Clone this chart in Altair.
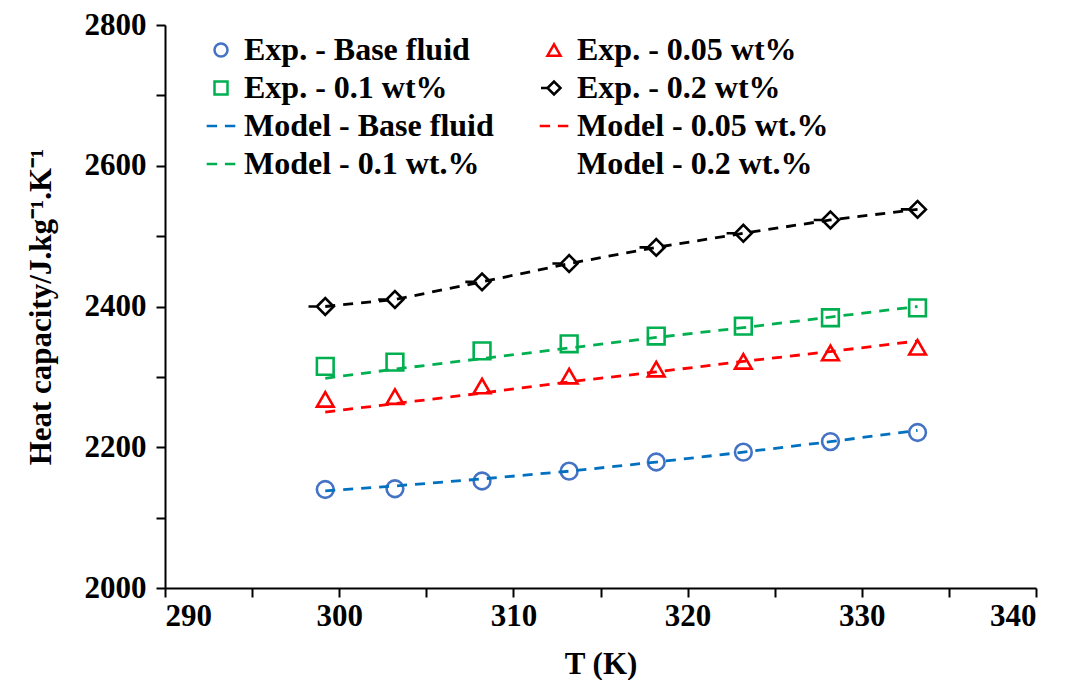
import altair as alt
import pandas as pd

# ---- data ----
T = [299.2, 303.2, 308.2, 313.2, 318.2, 323.2, 328.2, 333.2]
exp_base = [2140, 2141, 2152, 2166, 2179, 2193, 2208, 2221]
exp_005 = [2268, 2272, 2287, 2301, 2311, 2322, 2334, 2342]
exp_01 = [2315, 2321, 2337, 2347, 2358, 2372, 2384, 2398]
exp_02 = [2400, 2410, 2435, 2461, 2484, 2504, 2523, 2538]
model_base = [2138, 2145, 2155, 2166, 2179, 2193, 2208, 2224]
model_005 = [2250, 2262, 2277, 2293, 2307, 2322, 2336, 2351]
model_01 = [2298, 2311, 2326, 2341, 2356, 2370, 2385, 2400]
model_02 = [2400, 2410, 2435, 2461, 2484, 2504, 2523, 2538]

exp_names = ["Exp. - Base fluid", "Exp. - 0.05 wt%", "Exp. - 0.1 wt%", "Exp. - 0.2 wt%"]
model_names = ["Model - Base fluid", "Model - 0.05 wt.%", "Model - 0.1 wt.%", "Model - 0.2 wt.%"]

DASH = "M-2.2,0H-0.6M0.6,0H2.2"
DIAMOND_TAIL = "M-2.0,0H-1M-1,0L0,-1L1,0L0,1Z"
# legend fills column by column: left column first, then right column
legend_order = ["Exp. - Base fluid", "Exp. - 0.1 wt%", "Model - Base fluid", "Model - 0.1 wt.%",
                "Exp. - 0.05 wt%", "Exp. - 0.2 wt%", "Model - 0.05 wt.%", "Model - 0.2 wt.%"]
colors = ["#4472C4", "#00B050", "#0070C0", "#00B050",
          "#FF0000", "#000000", "#FF0000", "#000000"]
shapes = ["circle", "square", DASH, DASH,
          "triangle-up", DIAMOND_TAIL, DASH, "M0,0"]

exp_rows = []
for name, vals in zip(exp_names, [exp_base, exp_005, exp_01, exp_02]):
    for t, v in zip(T, vals):
        exp_rows.append({"T": t, "Cp": v, "series": name})
model_rows = []
for name, vals in zip(model_names, [model_base, model_005, model_01, model_02]):
    for t, v in zip(T, vals):
        model_rows.append({"T": t, "Cp": v, "series": name})
exp_df = pd.DataFrame(exp_rows)
model_df = pd.DataFrame(model_rows)

FONT = "Liberation Serif"

x_enc = alt.X("T:Q", title="T (K)",
              scale=alt.Scale(domain=[290, 340], nice=False, zero=False),
              axis=alt.Axis(values=list(range(290, 341, 5)), format="d",
                            labelExpr="datum.value % 10 == 0 ? datum.label : ''",
                            labelPadding=4, titlePadding=18))
y_enc = alt.Y("Cp:Q", title="Heat capacity/J.kg\u207b\u00b9.K\u207b\u00b9",
              scale=alt.Scale(domain=[2000, 2800], nice=False, zero=False),
              axis=alt.Axis(values=list(range(2000, 2801, 100)), format="d",
                            labelExpr="datum.value % 200 == 0 ? datum.label : ''",
                            labelPadding=10, titlePadding=27))

legend = alt.Legend(
    title=None, orient="none", legendX=40, legendY=9, columns=2,
    labelFont=FONT, labelFontSize=32, labelFontWeight="bold", labelColor="black",
    labelLimit=400, symbolSize=169, symbolStrokeWidth=2.5, labelOffset=7,
    rowPadding=6, columnPadding=40, padding=0,
)

color_enc = alt.Color("series:N", scale=alt.Scale(domain=legend_order, range=colors), legend=legend)
shape_enc = alt.Shape("series:N", scale=alt.Scale(domain=legend_order, range=shapes), legend=legend)

points = alt.Chart(exp_df).mark_point(filled=False, size=280, strokeWidth=2.6, opacity=1).encode(
    x=x_enc, y=y_enc, color=color_enc, shape=shape_enc)

lines = alt.Chart(model_df).mark_line(strokeWidth=2.8, strokeDash=[10, 8]).encode(
    x=x_enc, y=y_enc, color=color_enc, detail="series:N")

chart = alt.layer(points, lines).properties(
    width=871, height=563,
    autosize=alt.AutoSizeParams(type="none"),
    padding={"left": 157, "top": 17, "right": 25, "bottom": 92},
).configure(background="white").configure_view(stroke=None).configure_axis(
    domainColor="black", domainWidth=2, tickColor="black", tickWidth=2, tickSize=9,
    grid=False, labelFont=FONT, labelFontSize=31, labelFontWeight="bold", labelColor="black",
    titleFont=FONT, titleFontSize=31, titleFontWeight="bold", titleColor="black",
)

chart.save("out.html", embed_options={"renderer": "svg", "actions": False})
